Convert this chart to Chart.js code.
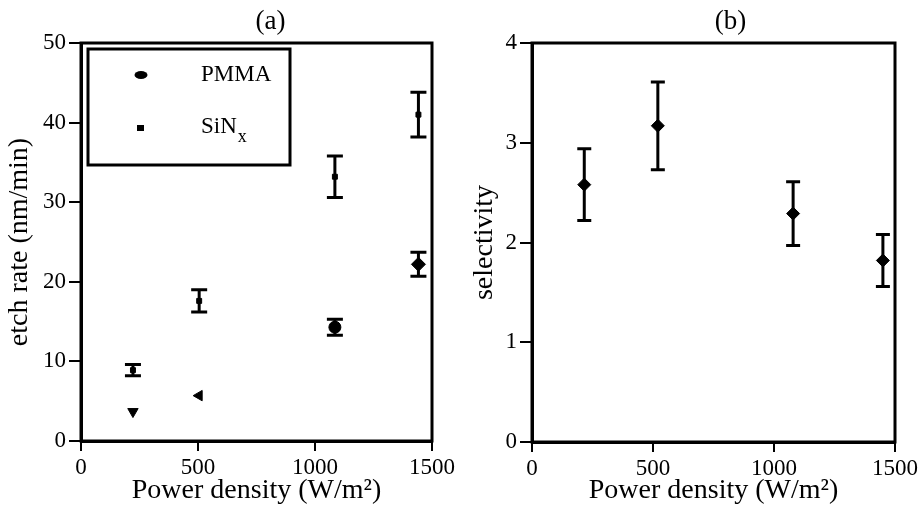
<!DOCTYPE html>
<html>
<head>
<meta charset="utf-8">
<script src="https://cdn.jsdelivr.net/npm/chart.js@4/dist/chart.umd.min.js"></script>
<style>
  body { margin: 0; background: #fff; }
  #wrap { position: relative; width: 924px; height: 507px; }
  canvas { position: absolute; top: 0; }
  #chartA { left: 0; }
  #chartB { left: 462px; }
</style>
</head>
<body>
<div id="wrap">
  <canvas id="chartA" width="462" height="507"></canvas>
  <canvas id="chartB" width="462" height="507"></canvas>
</div>
<script>
// (a) etch rate vs power density
let powerA = [222, 505, 1085, 1442]
let pmmaRate = [3.7, 5.7, 14.3, 22.2]
let pmmaErr = [0, 0, 1.0, 1.5]
let sinxRate = [8.9, 17.6, 33.2, 41.0]
let sinxErr = [0.7, 1.4, 2.6, 2.8]

// (b) selectivity vs power density
let powerB = [216, 520, 1079, 1450]
let selectivity = [2.58, 3.17, 2.29, 1.82]
let selErr = [0.36, 0.44, 0.32, 0.26]

let xTicks = [0, 500, 1000, 1500]

const serif = "'Liberation Serif', 'Times New Roman', serif"

function toPoints(xs, ys) {
    return xs.map((x, i) => ({ x: x, y: ys[i] }))
}

// 誤差棒
const errorBars = {
    id: 'errorBars',
    afterDatasetsDraw(chart) {
        const ctx = chart.ctx
        const xs = chart.scales.x, ys = chart.scales.y
        chart.data.datasets.forEach(ds => {
            if (!ds.errors) return
            const cap = ds.capHalf || 7
            ctx.save()
            ctx.strokeStyle = '#000'
            ctx.lineWidth = 3
            ds.data.forEach((p, i) => {
                const e = ds.errors[i]
                if (!e) return
                const x = xs.getPixelForValue(p.x)
                const y1 = ys.getPixelForValue(p.y + e)
                const y2 = ys.getPixelForValue(p.y - e)
                ctx.beginPath()
                ctx.moveTo(x, y1); ctx.lineTo(x, y2)
                ctx.moveTo(x - cap, y1); ctx.lineTo(x + cap, y1)
                ctx.moveTo(x - cap, y2); ctx.lineTo(x + cap, y2)
                ctx.stroke()
            })
            ctx.restore()
        })
    }
}

// 外框 + 標題
const frame = {
    id: 'frame',
    afterDraw(chart, args, opts) {
        const ctx = chart.ctx
        const a = chart.chartArea
        ctx.save()
        ctx.strokeStyle = '#000'
        ctx.lineWidth = 3
        ctx.strokeRect(a.left, a.top, a.right - a.left, a.bottom - a.top)
        ctx.fillStyle = '#000'
        ctx.font = '27px ' + serif
        ctx.textAlign = 'center'
        ctx.textBaseline = 'middle'
        ctx.fillText(opts.text, (a.left + a.right) / 2 + opts.shift, 22)
        ctx.restore()
    }
}

// (a) 圖例
const legendBox = {
    id: 'legendBox',
    afterDraw(chart) {
        const ctx = chart.ctx
        ctx.save()
        ctx.strokeStyle = '#000'
        ctx.lineWidth = 3
        ctx.strokeRect(88, 49, 202, 116)
        ctx.fillStyle = '#000'
        ctx.beginPath()
        ctx.ellipse(141, 75, 6.5, 4, 0, 0, Math.PI * 2)
        ctx.fill()
        ctx.fillRect(137, 125, 7, 6)
        ctx.font = '23px ' + serif
        ctx.textAlign = 'left'
        ctx.textBaseline = 'middle'
        ctx.fillText('PMMA', 201, 75)
        ctx.fillText('SiN', 201, 127)
        const w = ctx.measureText('SiN').width
        ctx.font = '18px ' + serif
        ctx.fillText('x', 201 + w + 1, 137)
        ctx.restore()
    }
}

function axisOptions(yMax, yStep, yTitle, yWidth, yTitlePad, xHeight) {
    return {
        x: {
            type: 'linear', min: 0, max: 1500,
            afterBuildTicks: s => { s.ticks = xTicks.map(v => ({ value: v })) },
            afterFit: s => { s.height = xHeight },
            grid: { drawOnChartArea: false, drawTicks: true, tickLength: 10, color: '#000', lineWidth: 2 },
            border: { color: '#000', width: 3 },
            ticks: { color: '#000', padding: 3, font: { family: serif, size: 23 }, maxRotation: 0, callback: v => String(v) },
            title: { display: true, text: 'Power density (W/m²)', color: '#000', padding: { top: 0, bottom: 0 }, font: { family: serif, size: 28 } }
        },
        y: {
            min: 0, max: yMax,
            afterFit: s => { s.width = yWidth },
            grid: { drawOnChartArea: false, drawTicks: true, tickLength: 12, color: '#000', lineWidth: 2 },
            border: { color: '#000', width: 3 },
            ticks: { stepSize: yStep, color: '#000', padding: 3, font: { family: serif, size: 23 }, callback: v => String(v) },
            title: { display: true, text: yTitle, color: '#000', padding: { top: yTitlePad, bottom: 0 }, font: { family: serif, size: 28 } }
        }
    }
}

new Chart(document.getElementById('chartA'), {
    type: 'scatter',
    data: {
        datasets: [
            {
                label: 'PMMA',
                data: toPoints(powerA, pmmaRate),
                errors: pmmaErr,
                capHalf: 8,
                pointStyle: ['triangle', 'triangle', 'circle', 'rectRot'],
                pointRotation: [180, 270, 0, 0],
                pointRadius: [6, 6, 6, 7],
                backgroundColor: '#000',
                borderColor: '#000'
            },
            {
                label: 'SiNx',
                data: toPoints(powerA, sinxRate),
                errors: sinxErr,
                capHalf: 8,
                pointStyle: 'rect',
                pointRadius: 3.5,
                backgroundColor: '#000',
                borderColor: '#000'
            }
        ]
    },
    options: {
        responsive: false,
        animation: false,
        layout: { padding: { left: 0, right: 30, top: 43, bottom: 0 } },
        plugins: { legend: { display: false }, tooltip: { enabled: false }, frame: { text: '(a)', shift: 14 } },
        scales: axisOptions(50, 10, 'etch rate (nm/min)', 81, 3, 66)
    },
    plugins: [errorBars, frame, legendBox]
})

new Chart(document.getElementById('chartB'), {
    type: 'scatter',
    data: {
        datasets: [
            {
                label: 'selectivity',
                data: toPoints(powerB, selectivity),
                errors: selErr,
                capHalf: 7,
                pointStyle: 'rectRot',
                pointRadius: 6.5,
                backgroundColor: '#000',
                borderColor: '#000'
            }
        ]
    },
    options: {
        responsive: false,
        animation: false,
        layout: { padding: { left: 0, right: 29, top: 43, bottom: 0 } },
        plugins: { legend: { display: false }, tooltip: { enabled: false }, frame: { text: '(b)', shift: 17 } },
        scales: axisOptions(4, 1, 'selectivity', 70, 6, 65)
    },
    plugins: [errorBars, frame]
})
</script>
</body>
</html>
